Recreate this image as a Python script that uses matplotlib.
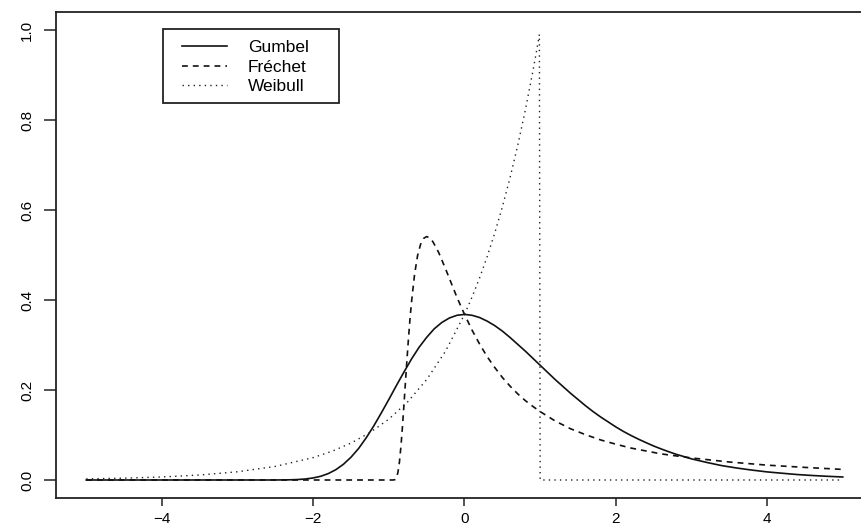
import matplotlib
matplotlib.use("Agg")
import matplotlib.pyplot as plt
from matplotlib.patches import Rectangle

plt.rcParams['font.family'] = ['Liberation Sans', 'DejaVu Sans']

# values
gumbel_x = [-5.0, -3.0, -2.6, -2.5, -2.4, -2.3, -2.2, -2.1, -2.0, -1.9, -1.8, -1.7,
            -1.6, -1.5, -1.4, -1.3, -1.2, -1.1, -1.0, -0.9, -0.8, -0.7, -0.6, -0.5,
            -0.4, -0.3, -0.2, -0.1, 0.0, 0.1, 0.2, 0.3, 0.4, 0.5, 0.6, 0.7, 0.8,
            0.9, 1.0, 1.1, 1.2, 1.3, 1.4, 1.5, 1.6, 1.7, 1.8, 1.9, 2.0, 2.1, 2.2,
            2.3, 2.4, 2.5, 2.6, 2.7, 2.8, 2.9, 3.0, 3.2, 3.4, 3.6, 3.8, 4.0, 4.2,
            4.4, 4.6, 4.8, 5.0]
gumbel_y = [0.0, 0.0, 0.00001, 0.00006, 0.0002, 0.00046, 0.0011, 0.0023, 0.0046,
            0.0083, 0.0143, 0.0230, 0.035, 0.0507, 0.070, 0.0936, 0.120, 0.149,
            0.179, 0.210, 0.240, 0.269, 0.295, 0.317, 0.336, 0.350, 0.360, 0.366,
            0.368, 0.366, 0.361, 0.353, 0.343, 0.331, 0.317, 0.302, 0.287, 0.271,
            0.255, 0.239, 0.223, 0.208, 0.193, 0.179, 0.165, 0.152, 0.140, 0.129,
            0.118, 0.108, 0.099, 0.0907, 0.083, 0.0756, 0.069, 0.0628, 0.057,
            0.0521, 0.047, 0.0391, 0.032, 0.0266, 0.022, 0.018, 0.015, 0.0121,
            0.010, 0.0082, 0.0067]

frechet_x = [-5.0, -0.95, -0.92, -0.90, -0.88, -0.86, -0.84, -0.82, -0.80, -0.78,
             -0.76, -0.74, -0.72, -0.70, -0.66, -0.62, -0.58, -0.54, -0.50, -0.46,
             -0.42, -0.38, -0.34, -0.30, -0.25, -0.20, -0.15, -0.10, -0.05, 0.0,
             0.1, 0.2, 0.3, 0.4, 0.5, 0.6, 0.7, 0.8, 0.9, 1.0, 1.2, 1.4, 1.6, 1.8,
             2.0, 2.2, 2.6, 3.0, 3.5, 4.0, 4.5, 5.0]
frechet_y = [0.0, 0.0, 0.0006, 0.0045, 0.017, 0.040, 0.075, 0.119, 0.168, 0.219,
             0.269, 0.316, 0.359, 0.396, 0.457, 0.499, 0.524, 0.537, 0.541, 0.538,
             0.530, 0.518, 0.505, 0.489, 0.469, 0.448, 0.427, 0.406, 0.387, 0.368,
             0.333, 0.302, 0.274, 0.250, 0.228, 0.209, 0.192, 0.177, 0.164, 0.152,
             0.131, 0.114, 0.1007, 0.089, 0.0796, 0.071, 0.058, 0.049, 0.040,
             0.033, 0.028, 0.0235]

weibull_x = [-5.0, -4.5, -4.0, -3.5, -3.0, -2.5, -2.0, -1.75, -1.5, -1.25, -1.0,
             -0.75, -0.5, -0.25, 0.0, 0.1, 0.2, 0.3, 0.4, 0.5, 0.6, 0.7, 0.8, 0.9,
             0.95, 0.99, 1.0, 5.0]
weibull_y = [0.0025, 0.0041, 0.0067, 0.0111, 0.0183, 0.0302, 0.0498, 0.0639,
             0.0821, 0.1054, 0.1353, 0.1738, 0.2231, 0.2865, 0.3679, 0.4066,
             0.4493, 0.4966, 0.5488, 0.6065, 0.6703, 0.7408, 0.8187, 0.9048,
             0.951, 0.99, 0.0, 0.0]

xticks = [-4, -2, 0, 2, 4]
xtick_labels = ['\u22124', '\u22122', '0', '2', '4']
yticks = [0.0, 0.2, 0.4, 0.6, 0.8, 1.0]
ytick_labels = ['0.0', '0.2', '0.4', '0.6', '0.8', '1.0']

fig = plt.figure(figsize=(8.61, 5.27), dpi=100)
ax = fig.add_axes([56 / 861, 29 / 527, 817 / 861, 486 / 527])

ax.plot(gumbel_x, gumbel_y, color='#111111', lw=1.2, label='Gumbel')
ax.plot(frechet_x, frechet_y, color='#111111', lw=1.2, dashes=(3.5, 3), label='Fréchet')
ax.plot(weibull_x, weibull_y, color='#222222', lw=1.0, dashes=(1, 3), label='Weibull')

ax.set_xlim(-5.4, 5.4)
ax.set_ylim(-0.04, 1.04)
ax.set_xticks(xticks)
ax.set_xticklabels(xtick_labels)
ax.set_yticks(yticks)
ax.set_yticklabels(ytick_labels, rotation=90, va='center')

for sp in ax.spines.values():
    sp.set_linewidth(1.3)
    sp.set_color('#222222')
ax.tick_params(axis='x', length=5.4, width=1.1, pad=5, labelsize=11, color='#222222')
ax.tick_params(axis='y', length=8.6, width=1.1, pad=7, labelsize=11, color='#222222')

leg = ax.legend(loc='upper left', bbox_to_anchor=(182 / 861, 1 - 40 / 527),
                bbox_transform=fig.transFigure, frameon=False, fontsize=12.5,
                handlelength=2.6, handletextpad=1.2, borderpad=0, borderaxespad=0,
                labelspacing=0.26)

# R-style legend box, a bit wider on the right like the original
fig.canvas.draw()
bb = leg.get_window_extent()
pad_l, pad_r, pad_top, pad_bot = 19, 30, 11, 9
rect = Rectangle((bb.x0 - pad_l, bb.y0 - pad_bot), bb.width + pad_l + pad_r,
                 bb.height + pad_top + pad_bot, transform=None, fill=False,
                 edgecolor='#222222', lw=1.3)
fig.patches.append(rect)

fig.savefig('out.png', dpi=100)
